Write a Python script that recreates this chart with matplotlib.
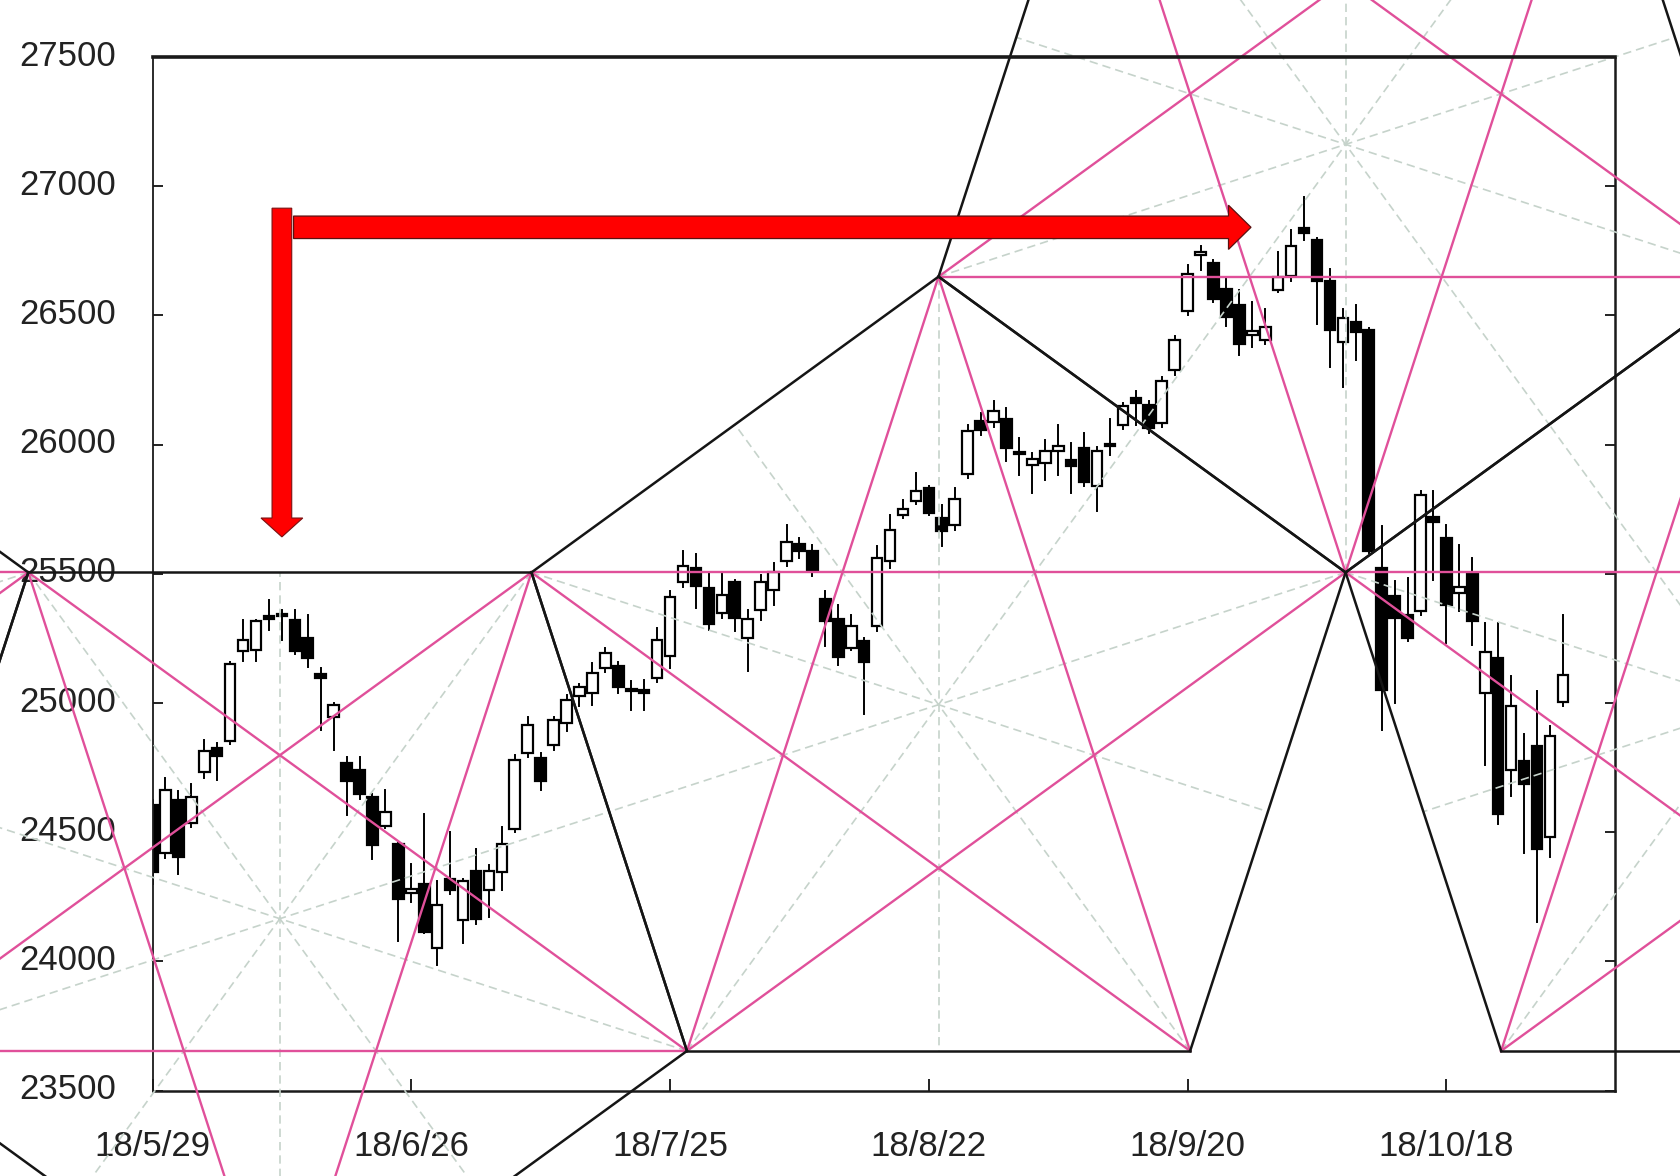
import matplotlib
matplotlib.use("Agg")
import matplotlib.pyplot as plt
import matplotlib.transforms as mtransforms
import numpy as np
from matplotlib.patches import Rectangle, FancyArrow

# daily candles, slot 0 = 18/5/29
opens = [24604, 24420, 24623, 24535, 24732, 24826, 24852, 25200, 25206, 25335,
         25335, 25322, 25252, 25112, 24948, 24768, 24740, 24636, 24526, 24455,
         24265, 24301, 24053, 24320, 24159, 24352, 24277, 24346, 24513, 24806,
         24787, 24839, 24923, 25026, 25039, 25135, 25142, 25045, 25050, 25097,
         25181, 25467, 25522, 25445, 25348, 25467, 25252, 25361, 25436, 25548,
         25615, 25587, 25404, 25325, 25213, 25239, 25299, 25548, 25729, 25783,
         25832, 25718, 25688, 25886, 26093, 26087, 26100, 25970, 25921, 25929,
         25974, 25942, 25987, 25839, 25998, 26077, 26180, 26155, 26084, 26287,
         26517, 26735, 26704, 26601, 26539, 26424, 26403, 26599, 26651, 26838,
         26793, 26632, 26397, 26474, 26442, 25522, 25413, 25342, 25355, 25720,
         25639, 25426, 25500, 25039, 25174, 24742, 24774, 24832, 24481, 25006]
highs = [24625, 24710, 24660, 24688, 24858, 24845, 25160, 25322, 25320, 25400,
         25361, 25361, 25342, 25135, 25000, 24790, 24790, 24650, 24662, 24460,
         24378, 24571, 24313, 24500, 24320, 24436, 24372, 24520, 24800, 24948,
         24806, 24948, 25030, 25075, 25155, 25213, 25160, 25084, 25090, 25290,
         25432, 25587, 25577, 25503, 25503, 25477, 25361, 25497, 25542, 25690,
         25639, 25613, 25432, 25380, 25342, 25250, 25606, 25729, 25787, 25890,
         25840, 25768, 25832, 26077, 26122, 26167, 26141, 26026, 25968, 26019,
         26077, 26006, 26045, 25990, 26100, 26160, 26206, 26170, 26260, 26420,
         26694, 26767, 26713, 26642, 26597, 26552, 26526, 26745, 26832, 26958,
         26800, 26681, 26526, 26539, 26450, 25684, 25471, 25484, 25819, 25819,
         25690, 25613, 25561, 25310, 25310, 25103, 24880, 25045, 24910, 25342]
lows = [24300, 24400, 24339, 24520, 24710, 24703, 24840, 25164, 25164, 25284,
        25245, 25190, 25138, 24897, 24819, 24565, 24630, 24397, 24515, 24081,
        24230, 24110, 23985, 24260, 24071, 24146, 24172, 24275, 24500, 24790,
        24662, 24820, 24890, 24990, 24994, 25120, 25040, 24974, 24974, 25080,
        25135, 25450, 25368, 25284, 25330, 25277, 25123, 25322, 25380, 25530,
        25561, 25490, 25219, 25148, 25206, 24957, 25280, 25522, 25716, 25770,
        25729, 25606, 25670, 25870, 26038, 26070, 25935, 25884, 25813, 25864,
        25884, 25813, 25840, 25742, 25960, 26060, 26077, 26045, 26070, 26270,
        26500, 26674, 26552, 26461, 26345, 26377, 26390, 26590, 26635, 26793,
        26468, 26300, 26223, 26326, 25580, 24897, 25000, 25240, 25340, 25477,
        25232, 25355, 25226, 24761, 24533, 24642, 24420, 24152, 24404, 24990]
closes = [24346, 24662, 24404, 24636, 24813, 24794, 25151, 25245, 25319, 25325,
          25339, 25203, 25174, 25097, 24994, 24700, 24649, 24449, 24578, 24243,
          24280, 24114, 24217, 24275, 24313, 24165, 24352, 24453, 24781, 24916,
          24697, 24935, 25013, 25062, 25116, 25194, 25061, 25050, 25040, 25245,
          25410, 25531, 25452, 25307, 25417, 25329, 25325, 25468, 25506, 25622,
          25587, 25513, 25316, 25177, 25299, 25159, 25561, 25671, 25752, 25822,
          25735, 25664, 25791, 26051, 26058, 26129, 25987, 25962, 25945, 25977,
          25996, 25916, 25855, 25974, 25993, 26148, 26161, 26064, 26248, 26403,
          26659, 26745, 26562, 26494, 26390, 26439, 26457, 26648, 26767, 26820,
          26632, 26442, 26490, 26436, 25587, 25052, 25329, 25252, 25806, 25700,
          25380, 25448, 25316, 25197, 24571, 24987, 24688, 24436, 24871, 25110]

date_ticks = [0, 20, 40, 60, 80, 100]
date_labels = ["18/5/29", "18/6/26", "18/7/25", "18/8/22", "18/9/20", "18/10/18"]
price_ticks = [23500, 24000, 24500, 25000, 25500, 26000, 26500, 27000, 27500]

# pentagon pivots (slot, price): top, right, bottom right, bottom left, left
penta_slots = [60.75, 92.1, 80.29, 41.29, 29.34]
penta_prices = [26650, 25500, 23660, 23660, 25500]

# red arrows: down arrow (slot, from, to), right arrow (from slot, to slot, price)
down_arrow = (10.0, 26915, 25643)
right_arrow = (10.9, 84.9, 26841)

PINK = "#e0509a"
DASH = "#c6d3cb"


def reflect(pts, a, b):
    d = (b - a) / np.hypot(*(b - a))
    v = pts - a
    return a + 2 * np.outer(v @ d, d) - v


def regular_pentagon(piv):
    # regular pentagon (in pixels) hanging from the top pivot, sized by the side pivots
    top = piv[0]
    s = (np.hypot(*(piv[1] - top)) + np.hypot(*(piv[4] - top))) / 2
    r = s / (2 * np.sin(np.radians(36)))
    cx, cy = top[0], top[1] - r
    ang = np.radians([90, 18, -54, -126, 162])
    return np.column_stack([cx + r * np.cos(ang), cy + r * np.sin(ang)])


def main():
    plt.rcParams['font.family'] = ['Liberation Sans', 'DejaVu Sans']
    fig = plt.figure(figsize=(16.8, 11.76), dpi=100)
    ax = fig.add_axes([152.5 / 1680, 1 - 1090.7 / 1176,
                       (1614.6 - 152.5) / 1680, (1090.7 - 57) / 1176])
    ax.set_xlim(0, 113)
    ax.set_ylim(23500, 27500)

    # candles
    for i in range(len(opens)):
        o, h, l, c = opens[i], highs[i], lows[i], closes[i]
        ax.plot([i, i], [l, h], color='black', lw=1.4, zorder=2)
        lo = min(o, c)
        hgt = max(abs(c - o), 8)
        face = 'white' if c >= o else 'black'
        ax.add_patch(Rectangle((i - 0.41, lo), 0.82, hgt, facecolor=face,
                               edgecolor='black', lw=1.6, zorder=2.5))

    # pentagon tiling, built in pixel space so the shapes stay regular
    to_px = ax.transData.transform
    to_dat = ax.transData.inverted().transform
    p1 = regular_pentagon(to_px(np.column_stack([penta_slots, penta_prices])))
    p0 = reflect(p1, p1[4], p1[3])
    pm1 = reflect(p0, p0[0], p0[1])
    p2 = reflect(p1, p1[0], p1[1])
    p4 = reflect(p2, p2[1], p2[2])

    for pent in [pm1, p0, p1, p2, p4]:
        for i in range(5):
            a = pent[i]
            mid = (pent[(i + 2) % 5] + pent[(i + 3) % 5]) / 2
            seg = to_dat(np.array([a, mid]))
            ax.plot(seg[:, 0], seg[:, 1], color=DASH, lw=1.2, dashes=(5, 3),
                    clip_on=False, zorder=3)
        for i in range(5):
            seg = to_dat(np.array([pent[i], pent[(i + 2) % 5]]))
            ax.plot(seg[:, 0], seg[:, 1], color=PINK, lw=1.7,
                    clip_on=False, zorder=3.2)
        for i in range(5):
            seg = to_dat(np.array([pent[i], pent[(i + 1) % 5]]))
            ax.plot(seg[:, 0], seg[:, 1], color='#151515', lw=1.8,
                    clip_on=False, zorder=3.4)

    # red arrows
    x, y0, y1 = down_arrow
    ax.add_patch(FancyArrow(x, y0, 0, y1 - y0, width=1.52, head_width=3.23,
                            head_length=73, length_includes_head=True,
                            facecolor='#ff0000', edgecolor='#7a1010', lw=0.8,
                            clip_on=False, zorder=5))
    x0, x1, y = right_arrow
    ax.add_patch(FancyArrow(x0, y, x1 - x0, 0, width=87, head_width=171,
                            head_length=1.74, length_includes_head=True,
                            facecolor='#ff0000', edgecolor='#5a1010', lw=0.9,
                            clip_on=False, zorder=5))

    ax.set_xticks(date_ticks)
    ax.set_xticklabels(date_labels)
    ax.set_yticks(price_ticks)
    ax.set_yticklabels([str(p) for p in price_ticks])
    ax.tick_params(axis='y', direction='in', length=7.5, width=1.4,
                   left=True, right=True, labelsize=25, pad=26,
                   colors='#222222')
    ax.tick_params(axis='x', direction='in', length=8.5, width=1.4,
                   labelsize=25, pad=28.5, colors='#222222')
    shift = mtransforms.ScaledTranslation(0, 0.045, fig.dpi_scale_trans)
    for lab in ax.get_yticklabels():
        lab.set_transform(lab.get_transform() + shift)
    for side, lw in [('top', 2.6), ('right', 1.8), ('bottom', 1.8), ('left', 1.3)]:
        ax.spines[side].set_linewidth(lw)
        ax.spines[side].set_color('#1a1a1a')
    ax.spines['top'].set_zorder(4)

    fig.savefig('out.png', dpi=100)


if __name__ == "__main__":
    main()
